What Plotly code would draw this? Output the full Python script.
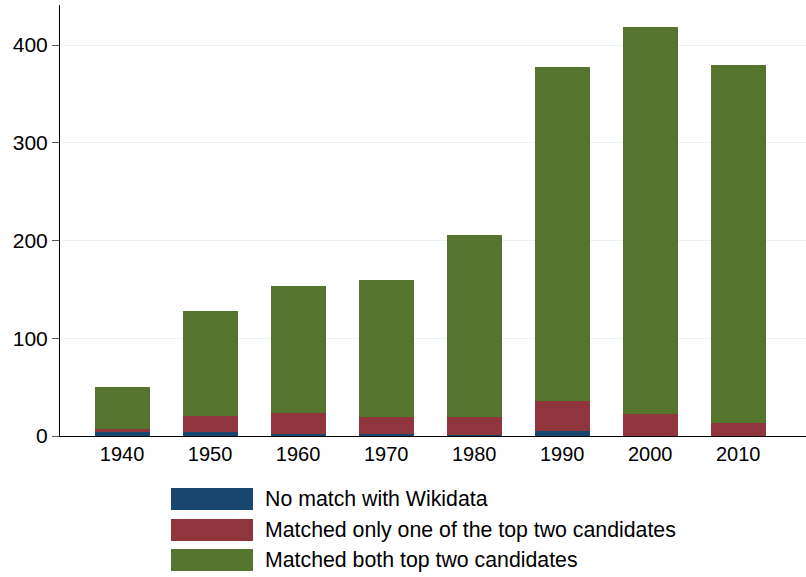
import plotly.graph_objects as go

decades = ["1940", "1950", "1960", "1970", "1980", "1990", "2000", "2010"]
no_match = [4, 4.5, 2.5, 2.5, 1, 5.5, 0.5, 0.3]
one_match = [3, 16.3, 21, 17, 18.5, 30.5, 22.5, 13.2]
both_match = [43.5, 107.5, 130, 140.5, 186.5, 342, 396, 366.5]

series_names = [
    "No match with Wikidata",
    "Matched only one of the top two candidates",
    "Matched both top two candidates",
]
colors = ["#1a476f", "#90353b", "#55752f"]

x_idx = list(range(len(decades)))
fig = go.Figure()
for name, vals, col in zip(series_names, [no_match, one_match, both_match], colors):
    fig.add_trace(go.Bar(x=x_idx, y=vals, name=name, marker=dict(color=col, line=dict(width=0)),
                         width=0.625, showlegend=False))

font_family = "Liberation Sans, Arial, Helvetica, sans-serif"
fig.update_layout(
    barmode="stack",
    width=806, height=577,
    margin=dict(l=60, r=0, t=5, b=141),
    plot_bgcolor="white", paper_bgcolor="white",
    font=dict(family=font_family, size=20, color="black"),
    xaxis=dict(range=[-0.705, 7.77], tickvals=x_idx, ticktext=decades, showgrid=False,
               showline=True, linecolor="black", linewidth=1, ticks="", zeroline=False,
               tickfont=dict(size=20)),
    yaxis=dict(range=[0, 441], tickvals=[0, 100, 200, 300, 400], showgrid=True,
               gridcolor="#eaf2f3", gridwidth=1, showline=True, linecolor="black",
               linewidth=1, ticks="outside", ticklen=7, tickcolor="#555555", zeroline=False,
               tickfont=dict(size=21)),
)

# Custom legend (wide swatches, as in the reference)
sw_x0, sw_x1, txt_x = 0.1488, 0.2587, 0.2715
rows = [(-0.1206, -0.1717, -0.146), (-0.1926, -0.2436, -0.218), (-0.2622, -0.3132, -0.288)]
for (y0, y1, yt), name, col in zip(rows, series_names, colors):
    fig.add_shape(type="rect", xref="paper", yref="paper", x0=sw_x0, x1=sw_x1, y0=y1, y1=y0,
                  fillcolor=col, line=dict(width=0))
    fig.add_annotation(xref="paper", yref="paper", x=txt_x, y=yt, text=name, showarrow=False,
                       xanchor="left", yanchor="middle", font=dict(size=21.3, color="black"))

fig.write_html("out.html", config={"displayModeBar": False},
               post_script="document.body.style.margin='0px';")
